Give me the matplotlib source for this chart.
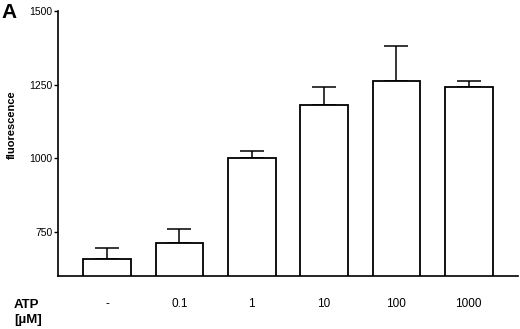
import numpy as np
import matplotlib.pyplot as plt
import matplotlib

matplotlib.rcParams['font.family'] = ['Liberation Sans', 'DejaVu Sans']

labels = ['-', '0.1', '1', '10', '100', '1000']
means = [657, 711, 1000, 1181, 1263, 1243]
sem = [38, 50, 26, 60, 117, 19]

x = np.arange(len(labels))
width = 0.66

fig = plt.figure(figsize=(5.2, 3.29), dpi=100)
ax = fig.add_axes([0.1115, 0.161, 0.8845, 0.806])

ax.bar(x, means, width, color='white', edgecolor='black', linewidth=1.3, zorder=2)
ax.errorbar(x, means, yerr=[np.zeros(len(sem)), sem], fmt='none', ecolor='black',
            elinewidth=1.1, capsize=8.5, capthick=1.1, zorder=1)

ax.set_xlim(-0.68, 5.68)
ax.set_ylim(600, 1500)
ax.set_yticks([750, 1000, 1250, 1500])
ax.tick_params(axis='y', labelsize=7.5, length=3, width=1, direction='out', pad=1)
ax.set_xticks(x)
ax.set_xticklabels(labels, fontsize=8.5)
ax.tick_params(axis='x', length=0, pad=16)
ax.spines['top'].set_visible(False)
ax.spines['right'].set_visible(False)
ax.spines['left'].set_linewidth(1.2)
ax.spines['bottom'].set_linewidth(1.2)

fig.text(0.023, 0.62, 'fluorescence', fontsize=8, fontweight='bold', rotation=90,
         va='center', ha='center')
fig.text(0.027, 0.073, 'ATP', fontsize=9.5, fontweight='bold', va='center', ha='left')
fig.text(0.027, 0.027, '[\u00b5M]', fontsize=9.5, fontweight='bold', va='center', ha='left')
fig.text(0.003, 0.99, 'A', fontsize=15, fontweight='bold', va='top', ha='left')

plt.savefig('out.png', dpi=100)
